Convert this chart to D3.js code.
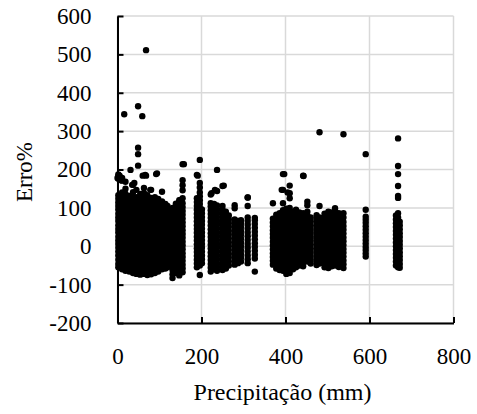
<!DOCTYPE html>
<html><head><meta charset="utf-8">
<script src="https://cdn.jsdelivr.net/npm/d3@7"></script>
</head><body style="margin:0"><svg id="c" width="477" height="414"></svg>
<script>
const xTicks = [0, 200, 400, 600, 800];
const yTicks = [-200, -100, 0, 100, 200, 300, 400, 500, 600];
const xTitle = "Precipitação (mm)";
const yTitle = "Erro%";

// vertical strips of observations: precipitation (mm) and error (%)
const stripX = [2, 11, 19, 28, 37, 45, 54, 63, 71, 80, 89, 97, 106, 114, 119,
  131, 139, 147, 155, 189, 196, 201, 222, 230, 237, 250, 258, 265, 279, 287, 294, 310, 327,
  370, 378, 386, 394, 402, 410, 418, 425, 433, 442, 452, 460, 474, 481,
  493, 502, 510, 518, 527, 538, 591, 663, 668, 672];
const stripY = [
  [-55,-46,-35,-24,-14,-4,6,15,25,36,45,55,66,75,85,96,105,114,124,133,176,182,187],
  [-60,-50,-41,-30,-20,-9,1,12,21,32,42,51,62,72,81,92,101,112,121,130,140,171],
  [-64,-53,-43,-33,-22,-12,-2,8,18,28,38,49,58,68,79,88,98,108,118,127,137,150,168],
  [-66,-56,-45,-36,-25,-15,-5,4,14,24,34,45,55,64,75,85,94,104,113,123,131],
  [-70,-59,-48,-38,-28,-17,-7,3,13,22,33,43,52,62,72,82,92,101,111,120,129,141,160],
  [-72,-62,-51,-41,-31,-20,-10,0,10,20,31,40,50,60,70,80,89,99,109,119,128,147],
  [-74,-63,-53,-43,-33,-22,-12,-2,8,18,28,38,48,58,68,77,87,97,107,117,126,136],
  [-72,-61,-52,-42,-31,-21,-11,-1,9,19,29,39,49,59,69,79,89,99,108,118,127,139,152],
  [-75,-65,-54,-44,-34,-24,-13,-3,7,17,27,36,46,56,66,76,86,95,105,114,124,133],
  [-73,-63,-53,-42,-32,-22,-12,-2,8,18,28,38,48,58,68,78,87,97,106,116,126,147],
  [-70,-60,-50,-40,-29,-19,-9,1,11,21,31,41,51,61,71,81,91,100,110,119,128],
  [-66,-56,-46,-36,-26,-15,-5,5,15,25,35,45,55,65,75,85,95,104,113,123],
  [-60,-50,-40,-30,-20,-10,0,10,20,30,40,50,60,70,80,90,99,108,117],
  [-58,-48,-38,-28,-17,-7,3,13,23,33,43,53,63,73,83,92,101,110],
  [-55,-44,-34,-24,-14,-4,6,16,26,36,46,56,66,76,86,96,105],
  [-83,-73,-62,-52,-42,-31,-21,-11,-1,9,19,29,39,50,60,70,80,90,100],
  [-70,-60,-50,-40,-30,-20,-10,0,10,20,30,40,50,60,70,80,90,101,111],
  [-76,-66,-55,-45,-35,-25,-15,-5,5,15,25,35,45,55,65,75,85,95,105,114,120],
  [-68,-58,-48,-38,-28,-18,-8,2,12,22,32,42,52,62,72,82,92,102,112,125,146,159,172,214],
  [-55,-45,-35,-25,-15,-5,5,15,25,35,45,55,65,75,85,95,105,115,125,186],
  [-75,-50,-40,-30,-20,-10,0,10,20,30,40,50,60,70,80,90,100,110,120,130,140,153,165,225],
  [-44,-34,-24,-14,-4,6,16,26,36,46,56,66,76,86,96],
  [-66,-56,-46,-36,-26,-16,-6,4,14,24,34,44,54,64,74,84,94,104,112,135],
  [-60,-50,-40,-30,-20,-10,0,10,20,30,40,50,60,70,80,90,100,110],
  [-64,-54,-44,-34,-24,-14,-4,6,16,26,36,46,56,66,76,86,96,106,144,199],
  [-62,-52,-42,-32,-22,-12,-2,8,18,28,38,48,58,68,78,88,95,105,157],
  [-58,-48,-38,-28,-18,-8,2,12,22,32,42,52,62,72,82,90],
  [-50,-40,-30,-20,-10,0,10,20,30,40,50,60,70,80],
  [-48,-38,-28,-18,-8,2,12,22,32,42,52,62,70,99,107],
  [-44,-34,-24,-14,-4,6,16,26,36,46,56,66],
  [-40,-30,-20,-10,0,10,20,30,40,50,60,68],
  [-44,-34,-24,-14,-4,6,16,26,36,46,56,66,75,105,127],
  [-66,-32,-22,-12,-2,8,18,28,38,48,58,68,74],
  [-48,-38,-28,-18,-8,2,12,22,32,42,52,62,72,112],
  [-58,-48,-38,-28,-18,-8,2,12,22,32,42,52,62,72,82],
  [-62,-52,-42,-32,-22,-12,-2,8,18,28,38,48,58,68,78,86],
  [-64,-54,-44,-34,-24,-14,-4,6,16,26,36,46,56,66,76,86,94,112,147,188],
  [-72,-62,-52,-42,-32,-22,-12,-2,8,18,28,38,48,58,68,78,88,98],
  [-70,-60,-50,-40,-30,-20,-10,0,10,20,30,40,50,60,70,80,90,100,125,138,158],
  [-60,-50,-40,-30,-20,-10,0,10,20,30,40,50,60,70,80,90],
  [-55,-45,-35,-25,-15,-5,5,15,25,35,45,55,65,75,85,95],
  [-50,-40,-30,-20,-10,0,10,20,30,40,50,60,70,80,88],
  [-52,-42,-32,-22,-12,-2,8,18,28,38,48,58,68,78,86,184],
  [-40,-30,-20,-10,0,10,20,30,40,50,60,70,80,90,107,116],
  [-45,-35,-25,-15,-5,5,15,25,35,45,55,65,75],
  [-49,-39,-29,-19,-9,1,11,21,31,41,51,61,71,81],
  [-45,-35,-25,-15,-5,5,15,25,35,45,55,65,75,105,297],
  [-55,-45,-35,-25,-15,-5,5,15,25,35,45,55,65,75,85],
  [-57,-47,-37,-27,-17,-7,3,13,23,33,43,53,63,73,83,90],
  [-52,-42,-32,-22,-12,-2,8,18,28,38,48,58,68,78,88],
  [-50,-40,-30,-20,-10,0,10,20,30,40,50,60,70,80,92,99],
  [-54,-44,-34,-24,-14,-4,6,16,26,36,46,56,66,76,86],
  [-57,-47,-37,-27,-17,-7,3,13,23,33,43,53,63,75,86,292],
  [-27,-19,-10,-2,7,16,25,34,43,52,61,69,77,95,240],
  [-50,-40,-30,-20,-10,0,10,20,30,40,50,60,70,80],
  [-55,-45,-35,-25,-15,-5,5,15,25,35,45,55,65,75,86,126,131,157,188,209,281],
  [-56,-46,-36,-26,-16,-6,4,14,24,34,44,54,64]
];
// isolated observations
const outX = [0, 5, 9, 16, 31, 35, 40, 49, 49, 49, 49, 59, 60, 66, 68, 68, 78, 92, 94, 106, 11, 158, 149, 191, 224, 232, 253, 310, 391, 405, 397, 443];
const outY = [178, 184, 172, 344, 199, 160, 165, 365, 257, 240, 210, 339, 184, 186, 184, 511, 147, 188, 190, 142, 178, 214, 120, 184, 138, 147, 158, 127, 147, 140, 188, 183];

const points = [];
stripX.forEach((x, i) => stripY[i].forEach(y => points.push([x, y])));
outX.forEach((x, i) => points.push([x, outY[i]]));

const FONT = "Liberation Serif";
const svg = d3.select("#c");
const L = 117.5, R = 453.5, T = 16, B = 323;
const x = d3.scaleLinear().domain([0, 800]).range([L, R]);
const y = d3.scaleLinear().domain([-200, 600]).range([B, T]);

// gridlines
svg.append("g").selectAll("line").data(yTicks).join("line")
  .attr("x1", L).attr("x2", R).attr("y1", d => y(d)).attr("y2", d => y(d))
  .attr("stroke", "#d9d9d9").attr("stroke-width", 1.5);
svg.append("g").selectAll("line").data(xTicks).join("line")
  .attr("x1", d => x(d)).attr("x2", d => x(d)).attr("y1", T).attr("y2", B)
  .attr("stroke", "#d9d9d9").attr("stroke-width", 1.5);

// points
svg.append("g").selectAll("circle").data(points).join("circle")
  .attr("cx", d => x(d[0])).attr("cy", d => y(d[1])).attr("r", 3.2).attr("fill", "#000");

// axes
const fmt = d => String(d);
const yAxis = d3.axisLeft(y).tickValues(yTicks).tickFormat(fmt).tickSizeInner(-6).tickSizeOuter(0).tickPadding(26);
const xAxis = d3.axisBottom(x).tickValues(xTicks).tickFormat(fmt).tickSizeInner(-6).tickSizeOuter(0).tickPadding(25);
const gy = svg.append("g").attr("transform", `translate(${L},0)`).call(yAxis);
const gx = svg.append("g").attr("transform", `translate(0,${B})`).call(xAxis);
[gy, gx].forEach(g => {
  g.attr("font-family", FONT).attr("font-size", 23);
  g.select(".domain").attr("stroke", "#000").attr("stroke-width", 2);
  g.selectAll(".tick line").attr("stroke", "#000").attr("stroke-width", 2);
  g.selectAll("text").attr("fill", "#000");
});

svg.append("text").attr("x", (L + R) / 2 - 3).attr("y", 400).attr("text-anchor", "middle")
  .attr("font-family", FONT).attr("font-size", 24).attr("fill", "#000").text(xTitle);
svg.append("text").attr("transform", `translate(32,172) rotate(-90)`).attr("text-anchor", "middle")
  .attr("font-family", FONT).attr("font-size", 23).attr("fill", "#000").text(yTitle);
</script></body></html>
